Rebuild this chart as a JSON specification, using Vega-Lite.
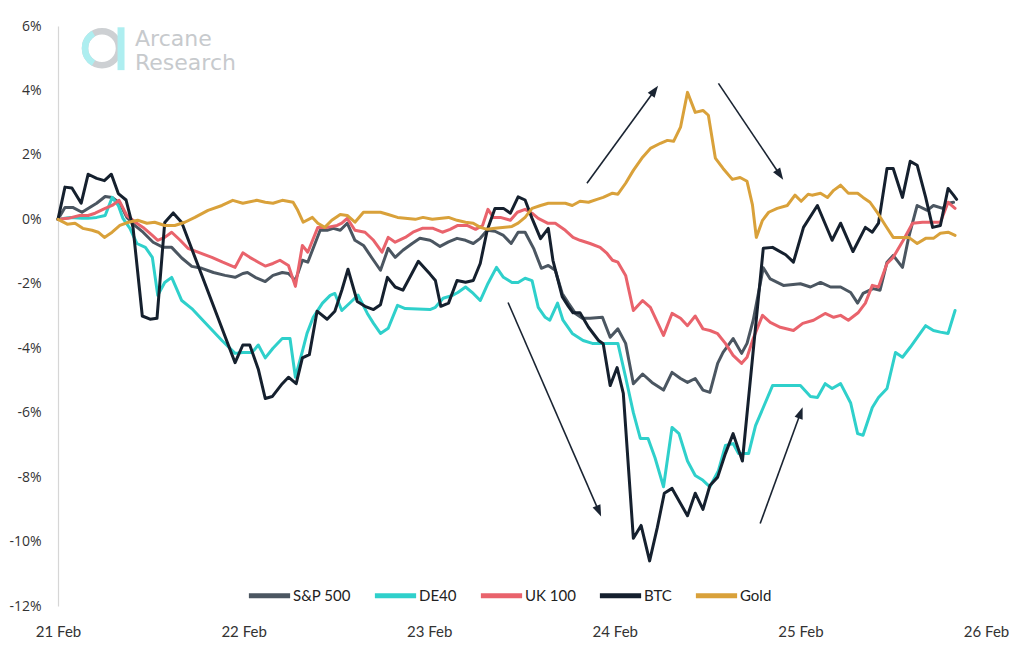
{
  "$schema": "https://vega.github.io/schema/vega-lite/v6.json",
  "width": 928,
  "height": 580,
  "autosize": {"type": "none"},
  "padding": {"left": 58, "top": 26, "right": 38, "bottom": 45},
  "background": "white",
  "config": {"view": {"stroke": null}, "font": "Open Sans"},
  "datasets": {
    "series": [
      {"s":"S&P 500","h":0,"v":0},{"s":"S&P 500","h":0.9,"v":0.37},{"s":"S&P 500","h":1.9,"v":0.37},{"s":"S&P 500","h":3.1,"v":0.22},{"s":"S&P 500","h":4.1,"v":0.37},{"s":"S&P 500","h":5.0,"v":0.5},{"s":"S&P 500","h":6.1,"v":0.71},{"s":"S&P 500","h":7.0,"v":0.68},{"s":"S&P 500","h":8.0,"v":0.5},{"s":"S&P 500","h":8.9,"v":0.06},{"s":"S&P 500","h":10.0,"v":-0.2},{"s":"S&P 500","h":11.0,"v":-0.4},{"s":"S&P 500","h":12.3,"v":-0.71},{"s":"S&P 500","h":13.6,"v":-0.87},{"s":"S&P 500","h":14.7,"v":-0.87},{"s":"S&P 500","h":16.0,"v":-1.2},{"s":"S&P 500","h":17.3,"v":-1.46},{"s":"S&P 500","h":18.6,"v":-1.52},{"s":"S&P 500","h":20.1,"v":-1.65},{"s":"S&P 500","h":21.6,"v":-1.74},{"s":"S&P 500","h":22.9,"v":-1.8},{"s":"S&P 500","h":23.9,"v":-1.68},{"s":"S&P 500","h":24.5,"v":-1.65},{"s":"S&P 500","h":25.5,"v":-1.8},{"s":"S&P 500","h":26.8,"v":-1.93},{"s":"S&P 500","h":27.8,"v":-1.74},{"s":"S&P 500","h":29.0,"v":-1.65},{"s":"S&P 500","h":29.8,"v":-1.68},{"s":"S&P 500","h":30.7,"v":-1.9},{"s":"S&P 500","h":31.6,"v":-1.27},{"s":"S&P 500","h":32.3,"v":-1.33},{"s":"S&P 500","h":33.9,"v":-0.34},{"s":"S&P 500","h":34.8,"v":-0.34},{"s":"S&P 500","h":35.6,"v":-0.28},{"s":"S&P 500","h":36.5,"v":-0.34},{"s":"S&P 500","h":37.4,"v":-0.12},{"s":"S&P 500","h":38.4,"v":-0.65},{"s":"S&P 500","h":39.5,"v":-0.81},{"s":"S&P 500","h":40.6,"v":-1.2},{"s":"S&P 500","h":41.7,"v":-1.58},{"s":"S&P 500","h":42.7,"v":-0.9},{"s":"S&P 500","h":43.6,"v":-1.18},{"s":"S&P 500","h":44.6,"v":-0.96},{"s":"S&P 500","h":45.8,"v":-0.75},{"s":"S&P 500","h":46.8,"v":-0.59},{"s":"S&P 500","h":48.1,"v":-0.65},{"s":"S&P 500","h":48.5,"v":-0.7},{"s":"S&P 500","h":49.4,"v":-0.84},{"s":"S&P 500","h":50.5,"v":-0.7},{"s":"S&P 500","h":51.6,"v":-0.59},{"s":"S&P 500","h":52.7,"v":-0.65},{"s":"S&P 500","h":53.7,"v":-0.75},{"s":"S&P 500","h":54.6,"v":-0.59},{"s":"S&P 500","h":55.5,"v":-0.34},{"s":"S&P 500","h":56.5,"v":-0.37},{"s":"S&P 500","h":57.6,"v":-0.5},{"s":"S&P 500","h":58.6,"v":-0.75},{"s":"S&P 500","h":59.5,"v":-0.4},{"s":"S&P 500","h":60.4,"v":-0.4},{"s":"S&P 500","h":61.5,"v":-0.9},{"s":"S&P 500","h":62.5,"v":-1.52},{"s":"S&P 500","h":63.4,"v":-1.43},{"s":"S&P 500","h":64.3,"v":-1.58},{"s":"S&P 500","h":65.2,"v":-2.3},{"s":"S&P 500","h":66.0,"v":-2.6},{"s":"S&P 500","h":66.9,"v":-2.92},{"s":"S&P 500","h":67.8,"v":-3.07},{"s":"S&P 500","h":68.8,"v":-3.07},{"s":"S&P 500","h":70.4,"v":-3.04},{"s":"S&P 500","h":71.4,"v":-3.66},{"s":"S&P 500","h":72.4,"v":-3.4},{"s":"S&P 500","h":73.4,"v":-3.85},{"s":"S&P 500","h":74.4,"v":-5.1},{"s":"S&P 500","h":75.6,"v":-4.8},{"s":"S&P 500","h":76.8,"v":-5.06},{"s":"S&P 500","h":78.3,"v":-5.3},{"s":"S&P 500","h":79.4,"v":-4.75},{"s":"S&P 500","h":80.5,"v":-4.94},{"s":"S&P 500","h":81.4,"v":-5.06},{"s":"S&P 500","h":82.4,"v":-4.94},{"s":"S&P 500","h":83.4,"v":-5.3},{"s":"S&P 500","h":84.3,"v":-5.37},{"s":"S&P 500","h":85.3,"v":-4.47},{"s":"S&P 500","h":86.0,"v":-4.13},{"s":"S&P 500","h":87.3,"v":-3.7},{"s":"S&P 500","h":88.4,"v":-4.16},{"s":"S&P 500","h":89.1,"v":-3.85},{"s":"S&P 500","h":89.9,"v":-3.13},{"s":"S&P 500","h":91.2,"v":-1.5},{"s":"S&P 500","h":92.1,"v":-1.85},{"s":"S&P 500","h":93.8,"v":-2.05},{"s":"S&P 500","h":96.0,"v":-2.0},{"s":"S&P 500","h":97.3,"v":-2.1},{"s":"S&P 500","h":98.6,"v":-1.96},{"s":"S&P 500","h":99.9,"v":-2.1},{"s":"S&P 500","h":101.2,"v":-2.1},{"s":"S&P 500","h":102.5,"v":-2.27},{"s":"S&P 500","h":103.4,"v":-2.6},{"s":"S&P 500","h":104.1,"v":-2.3},{"s":"S&P 500","h":105.4,"v":-2.15},{"s":"S&P 500","h":106.3,"v":-2.2},{"s":"S&P 500","h":107.2,"v":-1.33},{"s":"S&P 500","h":108.0,"v":-1.12},{"s":"S&P 500","h":109.2,"v":-1.49},{"s":"S&P 500","h":110.0,"v":-0.56},{"s":"S&P 500","h":111.1,"v":0.43},{"s":"S&P 500","h":112.4,"v":0.28},{"s":"S&P 500","h":113.2,"v":0.43},{"s":"S&P 500","h":114.4,"v":0.34},{"s":"S&P 500","h":115.1,"v":0.5},{"s":"S&P 500","h":115.8,"v":0.53},

      {"s":"DE40","h":0,"v":0},{"s":"DE40","h":1.6,"v":0.06},{"s":"DE40","h":3.1,"v":0.03},{"s":"DE40","h":3.9,"v":0.03},{"s":"DE40","h":5.0,"v":0.06},{"s":"DE40","h":6.1,"v":0.12},{"s":"DE40","h":7.0,"v":0.68},{"s":"DE40","h":7.8,"v":0.43},{"s":"DE40","h":8.4,"v":0.03},{"s":"DE40","h":9.3,"v":-0.28},{"s":"DE40","h":10.2,"v":-0.75},{"s":"DE40","h":11.3,"v":-0.87},{"s":"DE40","h":12.2,"v":-1.18},{"s":"DE40","h":12.9,"v":-2.36},{"s":"DE40","h":13.8,"v":-1.96},{"s":"DE40","h":14.7,"v":-1.8},{"s":"DE40","h":16.0,"v":-2.52},{"s":"DE40","h":17.3,"v":-2.77},{"s":"DE40","h":19.0,"v":-3.2},{"s":"DE40","h":21.2,"v":-3.76},{"s":"DE40","h":22.9,"v":-4.16},{"s":"DE40","h":23.9,"v":-4.13},{"s":"DE40","h":25.1,"v":-4.13},{"s":"DE40","h":25.9,"v":-3.9},{"s":"DE40","h":26.8,"v":-4.3},{"s":"DE40","h":27.8,"v":-4.0},{"s":"DE40","h":29.0,"v":-3.7},{"s":"DE40","h":30.0,"v":-3.7},{"s":"DE40","h":30.7,"v":-4.9},{"s":"DE40","h":31.6,"v":-4.1},{"s":"DE40","h":32.2,"v":-3.54},{"s":"DE40","h":33.0,"v":-3.04},{"s":"DE40","h":34.2,"v":-2.6},{"s":"DE40","h":35.2,"v":-2.36},{"s":"DE40","h":35.8,"v":-2.3},{"s":"DE40","h":36.7,"v":-2.83},{"s":"DE40","h":37.8,"v":-2.58},{"s":"DE40","h":38.8,"v":-2.35},{"s":"DE40","h":40.0,"v":-2.92},{"s":"DE40","h":40.8,"v":-3.23},{"s":"DE40","h":41.7,"v":-3.54},{"s":"DE40","h":42.7,"v":-3.38},{"s":"DE40","h":43.9,"v":-2.67},{"s":"DE40","h":44.9,"v":-2.77},{"s":"DE40","h":48.1,"v":-2.8},{"s":"DE40","h":48.8,"v":-2.73},{"s":"DE40","h":49.8,"v":-2.45},{"s":"DE40","h":51.0,"v":-2.36},{"s":"DE40","h":51.7,"v":-2.27},{"s":"DE40","h":52.7,"v":-2.1},{"s":"DE40","h":53.7,"v":-2.3},{"s":"DE40","h":54.6,"v":-2.52},{"s":"DE40","h":55.6,"v":-1.99},{"s":"DE40","h":56.7,"v":-1.49},{"s":"DE40","h":57.6,"v":-1.8},{"s":"DE40","h":58.7,"v":-1.96},{"s":"DE40","h":59.5,"v":-1.96},{"s":"DE40","h":60.4,"v":-1.83},{"s":"DE40","h":61.3,"v":-1.9},{"s":"DE40","h":62.1,"v":-2.73},{"s":"DE40","h":63.0,"v":-3.04},{"s":"DE40","h":63.6,"v":-3.13},{"s":"DE40","h":64.6,"v":-2.6},{"s":"DE40","h":65.3,"v":-3.13},{"s":"DE40","h":66.5,"v":-3.54},{"s":"DE40","h":67.9,"v":-3.76},{"s":"DE40","h":69.1,"v":-3.85},{"s":"DE40","h":72.4,"v":-3.85},{"s":"DE40","h":73.4,"v":-4.9},{"s":"DE40","h":74.4,"v":-6.0},{"s":"DE40","h":75.3,"v":-6.8},{"s":"DE40","h":76.3,"v":-6.8},{"s":"DE40","h":77.2,"v":-7.4},{"s":"DE40","h":78.3,"v":-8.3},{"s":"DE40","h":79.4,"v":-6.46},{"s":"DE40","h":80.3,"v":-6.65},{"s":"DE40","h":81.4,"v":-7.5},{"s":"DE40","h":82.4,"v":-7.95},{"s":"DE40","h":83.4,"v":-8.1},{"s":"DE40","h":84.3,"v":-8.3},{"s":"DE40","h":85.4,"v":-7.8},{"s":"DE40","h":86.3,"v":-7.02},{"s":"DE40","h":87.3,"v":-6.96},{"s":"DE40","h":88.0,"v":-7.27},{"s":"DE40","h":89.3,"v":-7.27},{"s":"DE40","h":90.2,"v":-6.4},{"s":"DE40","h":91.2,"v":-5.84},{"s":"DE40","h":92.4,"v":-5.16},{"s":"DE40","h":96.0,"v":-5.16},{"s":"DE40","h":97.3,"v":-5.5},{"s":"DE40","h":98.2,"v":-5.53},{"s":"DE40","h":99.2,"v":-5.1},{"s":"DE40","h":100.1,"v":-5.25},{"s":"DE40","h":101.2,"v":-5.1},{"s":"DE40","h":102.5,"v":-5.7},{"s":"DE40","h":103.4,"v":-6.65},{"s":"DE40","h":104.1,"v":-6.7},{"s":"DE40","h":105.3,"v":-5.84},{"s":"DE40","h":106.1,"v":-5.53},{"s":"DE40","h":107.2,"v":-5.25},{"s":"DE40","h":108.3,"v":-4.13},{"s":"DE40","h":109.2,"v":-4.28},{"s":"DE40","h":110.2,"v":-3.97},{"s":"DE40","h":111.3,"v":-3.6},{"s":"DE40","h":112.2,"v":-3.3},{"s":"DE40","h":113.2,"v":-3.45},{"s":"DE40","h":114.1,"v":-3.5},{"s":"DE40","h":115.1,"v":-3.54},{"s":"DE40","h":116.0,"v":-2.83},

      {"s":"UK 100","h":0,"v":0},{"s":"UK 100","h":1.3,"v":0.03},{"s":"UK 100","h":2.8,"v":0.12},{"s":"UK 100","h":3.9,"v":0.12},{"s":"UK 100","h":4.8,"v":0.19},{"s":"UK 100","h":6.1,"v":0.34},{"s":"UK 100","h":7.0,"v":0.43},{"s":"UK 100","h":7.9,"v":0.59},{"s":"UK 100","h":8.9,"v":0.12},{"s":"UK 100","h":10.0,"v":-0.09},{"s":"UK 100","h":11.0,"v":-0.25},{"s":"UK 100","h":12.2,"v":-0.5},{"s":"UK 100","h":12.9,"v":-0.65},{"s":"UK 100","h":13.8,"v":-0.56},{"s":"UK 100","h":14.7,"v":-0.4},{"s":"UK 100","h":15.8,"v":-0.65},{"s":"UK 100","h":16.8,"v":-0.9},{"s":"UK 100","h":18.1,"v":-1.02},{"s":"UK 100","h":19.9,"v":-1.18},{"s":"UK 100","h":21.3,"v":-1.33},{"s":"UK 100","h":22.9,"v":-1.49},{"s":"UK 100","h":23.9,"v":-1.04},{"s":"UK 100","h":24.8,"v":-1.18},{"s":"UK 100","h":25.9,"v":-1.33},{"s":"UK 100","h":26.8,"v":-1.45},{"s":"UK 100","h":27.8,"v":-1.37},{"s":"UK 100","h":28.7,"v":-1.27},{"s":"UK 100","h":29.8,"v":-1.43},{"s":"UK 100","h":30.7,"v":-2.08},{"s":"UK 100","h":31.6,"v":-0.81},{"s":"UK 100","h":32.3,"v":-1.02},{"s":"UK 100","h":33.6,"v":-0.25},{"s":"UK 100","h":34.8,"v":-0.25},{"s":"UK 100","h":36.1,"v":-0.19},{"s":"UK 100","h":36.7,"v":-0.12},{"s":"UK 100","h":37.4,"v":0.03},{"s":"UK 100","h":38.4,"v":-0.34},{"s":"UK 100","h":39.7,"v":-0.4},{"s":"UK 100","h":40.8,"v":-0.65},{"s":"UK 100","h":41.9,"v":-1.02},{"s":"UK 100","h":42.7,"v":-0.56},{"s":"UK 100","h":43.6,"v":-0.71},{"s":"UK 100","h":44.9,"v":-0.56},{"s":"UK 100","h":45.9,"v":-0.4},{"s":"UK 100","h":47.1,"v":-0.28},{"s":"UK 100","h":48.5,"v":-0.28},{"s":"UK 100","h":49.7,"v":-0.4},{"s":"UK 100","h":50.7,"v":-0.31},{"s":"UK 100","h":51.7,"v":-0.19},{"s":"UK 100","h":52.9,"v":-0.19},{"s":"UK 100","h":54.0,"v":-0.31},{"s":"UK 100","h":54.9,"v":-0.19},{"s":"UK 100","h":55.6,"v":0.31},{"s":"UK 100","h":56.3,"v":0.06},{"s":"UK 100","h":57.2,"v":0.06},{"s":"UK 100","h":58.5,"v":-0.03},{"s":"UK 100","h":59.4,"v":0.22},{"s":"UK 100","h":60.4,"v":0.31},{"s":"UK 100","h":61.3,"v":0.19},{"s":"UK 100","h":62.1,"v":0.03},{"s":"UK 100","h":63.3,"v":-0.12},{"s":"UK 100","h":64.3,"v":-0.12},{"s":"UK 100","h":65.6,"v":-0.34},{"s":"UK 100","h":66.6,"v":-0.56},{"s":"UK 100","h":67.5,"v":-0.65},{"s":"UK 100","h":68.8,"v":-0.75},{"s":"UK 100","h":70.1,"v":-0.87},{"s":"UK 100","h":71.0,"v":-1.06},{"s":"UK 100","h":71.7,"v":-1.27},{"s":"UK 100","h":72.4,"v":-1.33},{"s":"UK 100","h":73.4,"v":-1.74},{"s":"UK 100","h":74.4,"v":-2.83},{"s":"UK 100","h":75.6,"v":-2.52},{"s":"UK 100","h":76.6,"v":-2.73},{"s":"UK 100","h":78.3,"v":-3.6},{"s":"UK 100","h":79.4,"v":-2.92},{"s":"UK 100","h":80.5,"v":-3.07},{"s":"UK 100","h":81.4,"v":-3.3},{"s":"UK 100","h":82.4,"v":-3.0},{"s":"UK 100","h":83.4,"v":-3.4},{"s":"UK 100","h":84.3,"v":-3.45},{"s":"UK 100","h":85.3,"v":-3.55},{"s":"UK 100","h":86.3,"v":-3.85},{"s":"UK 100","h":87.3,"v":-4.22},{"s":"UK 100","h":88.4,"v":-4.47},{"s":"UK 100","h":89.1,"v":-4.28},{"s":"UK 100","h":89.9,"v":-3.7},{"s":"UK 100","h":91.1,"v":-2.98},{"s":"UK 100","h":92.1,"v":-3.2},{"s":"UK 100","h":93.4,"v":-3.35},{"s":"UK 100","h":95.1,"v":-3.45},{"s":"UK 100","h":96.3,"v":-3.23},{"s":"UK 100","h":97.7,"v":-3.13},{"s":"UK 100","h":99.2,"v":-2.92},{"s":"UK 100","h":100.3,"v":-3.04},{"s":"UK 100","h":101.2,"v":-2.98},{"s":"UK 100","h":102.2,"v":-3.13},{"s":"UK 100","h":103.5,"v":-2.89},{"s":"UK 100","h":104.4,"v":-2.6},{"s":"UK 100","h":105.3,"v":-2.05},{"s":"UK 100","h":106.1,"v":-2.1},{"s":"UK 100","h":107.2,"v":-1.37},{"s":"UK 100","h":108.0,"v":-1.18},{"s":"UK 100","h":109.3,"v":-0.65},{"s":"UK 100","h":110.5,"v":-0.12},{"s":"UK 100","h":111.8,"v":-0.09},{"s":"UK 100","h":114.1,"v":-0.09},{"s":"UK 100","h":115.1,"v":0.53},{"s":"UK 100","h":116.0,"v":0.34},

      {"s":"BTC","h":0,"v":0},{"s":"BTC","h":0.9,"v":1.0},{"s":"BTC","h":1.8,"v":0.97},{"s":"BTC","h":3.0,"v":0.5},{"s":"BTC","h":3.9,"v":1.4},{"s":"BTC","h":5.0,"v":1.27},{"s":"BTC","h":6.0,"v":1.2},{"s":"BTC","h":6.9,"v":1.4},{"s":"BTC","h":7.8,"v":0.8},{"s":"BTC","h":8.8,"v":0.6},{"s":"BTC","h":9.7,"v":-0.25},{"s":"BTC","h":10.9,"v":-3.0},{"s":"BTC","h":11.9,"v":-3.1},{"s":"BTC","h":12.8,"v":-3.07},{"s":"BTC","h":13.8,"v":-0.1},{"s":"BTC","h":14.9,"v":0.2},{"s":"BTC","h":16.0,"v":-0.1},{"s":"BTC","h":22.9,"v":-4.45},{"s":"BTC","h":23.9,"v":-3.9},{"s":"BTC","h":24.8,"v":-3.9},{"s":"BTC","h":25.9,"v":-4.65},{"s":"BTC","h":26.8,"v":-5.56},{"s":"BTC","h":27.7,"v":-5.5},{"s":"BTC","h":29.0,"v":-5.1},{"s":"BTC","h":29.8,"v":-4.9},{"s":"BTC","h":30.8,"v":-5.1},{"s":"BTC","h":31.6,"v":-4.3},{"s":"BTC","h":32.5,"v":-4.2},{"s":"BTC","h":33.5,"v":-2.85},{"s":"BTC","h":34.8,"v":-3.1},{"s":"BTC","h":35.8,"v":-2.85},{"s":"BTC","h":36.7,"v":-2.2},{"s":"BTC","h":37.5,"v":-1.55},{"s":"BTC","h":38.7,"v":-2.55},{"s":"BTC","h":39.7,"v":-2.7},{"s":"BTC","h":40.8,"v":-2.8},{"s":"BTC","h":41.7,"v":-2.65},{"s":"BTC","h":42.6,"v":-1.8},{"s":"BTC","h":43.6,"v":-2.1},{"s":"BTC","h":44.6,"v":-2.2},{"s":"BTC","h":45.5,"v":-1.8},{"s":"BTC","h":46.6,"v":-1.3},{"s":"BTC","h":48.1,"v":-1.7},{"s":"BTC","h":48.8,"v":-1.9},{"s":"BTC","h":49.5,"v":-2.7},{"s":"BTC","h":50.5,"v":-2.6},{"s":"BTC","h":51.6,"v":-1.9},{"s":"BTC","h":52.7,"v":-1.95},{"s":"BTC","h":53.7,"v":-1.9},{"s":"BTC","h":54.6,"v":-1.37},{"s":"BTC","h":55.5,"v":-0.34},{"s":"BTC","h":56.5,"v":0.34},{"s":"BTC","h":57.6,"v":0.34},{"s":"BTC","h":58.5,"v":0.19},{"s":"BTC","h":59.5,"v":0.7},{"s":"BTC","h":60.4,"v":0.6},{"s":"BTC","h":61.3,"v":0.03},{"s":"BTC","h":62.4,"v":-0.6},{"s":"BTC","h":63.4,"v":-0.28},{"s":"BTC","h":64.0,"v":-1.27},{"s":"BTC","h":65.2,"v":-2.4},{"s":"BTC","h":66.0,"v":-2.7},{"s":"BTC","h":66.6,"v":-2.9},{"s":"BTC","h":67.5,"v":-2.9},{"s":"BTC","h":68.6,"v":-3.35},{"s":"BTC","h":69.9,"v":-3.76},{"s":"BTC","h":70.5,"v":-3.86},{"s":"BTC","h":71.4,"v":-5.16},{"s":"BTC","h":72.3,"v":-4.6},{"s":"BTC","h":73.1,"v":-5.4},{"s":"BTC","h":74.4,"v":-9.9},{"s":"BTC","h":75.4,"v":-9.5},{"s":"BTC","h":76.5,"v":-10.6},{"s":"BTC","h":77.5,"v":-9.56},{"s":"BTC","h":78.4,"v":-8.5},{"s":"BTC","h":79.4,"v":-8.35},{"s":"BTC","h":81.4,"v":-9.2},{"s":"BTC","h":82.4,"v":-8.5},{"s":"BTC","h":83.4,"v":-9.0},{"s":"BTC","h":84.3,"v":-8.26},{"s":"BTC","h":85.3,"v":-8.0},{"s":"BTC","h":86.3,"v":-7.27},{"s":"BTC","h":87.3,"v":-6.65},{"s":"BTC","h":88.5,"v":-7.5},{"s":"BTC","h":91.2,"v":-0.9},{"s":"BTC","h":92.4,"v":-0.87},{"s":"BTC","h":94.1,"v":-1.1},{"s":"BTC","h":95.1,"v":-1.33},{"s":"BTC","h":96.4,"v":-0.25},{"s":"BTC","h":98.2,"v":0.43},{"s":"BTC","h":100.1,"v":-0.65},{"s":"BTC","h":101.2,"v":-0.12},{"s":"BTC","h":102.8,"v":-1.0},{"s":"BTC","h":104.4,"v":-0.25},{"s":"BTC","h":105.3,"v":-0.4},{"s":"BTC","h":106.1,"v":-0.12},{"s":"BTC","h":107.2,"v":1.58},{"s":"BTC","h":108.0,"v":1.58},{"s":"BTC","h":109.2,"v":0.68},{"s":"BTC","h":110.2,"v":1.8},{"s":"BTC","h":111.1,"v":1.68},{"s":"BTC","h":112.2,"v":0.68},{"s":"BTC","h":113.1,"v":-0.25},{"s":"BTC","h":114.1,"v":-0.19},{"s":"BTC","h":115.1,"v":0.96},{"s":"BTC","h":115.8,"v":0.75},{"s":"BTC","h":116.2,"v":0.62},

      {"s":"Gold","h":0,"v":0},{"s":"Gold","h":1.2,"v":-0.15},{"s":"Gold","h":2.2,"v":-0.12},{"s":"Gold","h":3.2,"v":-0.28},{"s":"Gold","h":4.4,"v":-0.34},{"s":"Gold","h":5.2,"v":-0.4},{"s":"Gold","h":6.0,"v":-0.56},{"s":"Gold","h":7.0,"v":-0.4},{"s":"Gold","h":8.0,"v":-0.19},{"s":"Gold","h":9.1,"v":-0.09},{"s":"Gold","h":10.3,"v":-0.03},{"s":"Gold","h":11.5,"v":-0.12},{"s":"Gold","h":12.5,"v":-0.09},{"s":"Gold","h":13.8,"v":-0.19},{"s":"Gold","h":15.1,"v":-0.19},{"s":"Gold","h":16.4,"v":-0.09},{"s":"Gold","h":17.7,"v":0.06},{"s":"Gold","h":19.4,"v":0.28},{"s":"Gold","h":21.2,"v":0.43},{"s":"Gold","h":22.6,"v":0.59},{"s":"Gold","h":23.9,"v":0.5},{"s":"Gold","h":25.7,"v":0.59},{"s":"Gold","h":26.8,"v":0.53},{"s":"Gold","h":27.8,"v":0.5},{"s":"Gold","h":29.0,"v":0.59},{"s":"Gold","h":30.4,"v":0.53},{"s":"Gold","h":31.0,"v":0.28},{"s":"Gold","h":31.7,"v":-0.09},{"s":"Gold","h":32.9,"v":0.06},{"s":"Gold","h":33.6,"v":-0.12},{"s":"Gold","h":34.5,"v":-0.25},{"s":"Gold","h":35.4,"v":-0.03},{"s":"Gold","h":36.5,"v":0.15},{"s":"Gold","h":37.4,"v":0.12},{"s":"Gold","h":38.4,"v":-0.09},{"s":"Gold","h":39.5,"v":0.22},{"s":"Gold","h":41.7,"v":0.22},{"s":"Gold","h":42.7,"v":0.15},{"s":"Gold","h":43.9,"v":0.06},{"s":"Gold","h":46.2,"v":0.0},{"s":"Gold","h":47.2,"v":0.06},{"s":"Gold","h":48.4,"v":0.0},{"s":"Gold","h":50.5,"v":0.06},{"s":"Gold","h":51.6,"v":-0.03},{"s":"Gold","h":52.7,"v":-0.09},{"s":"Gold","h":53.7,"v":-0.12},{"s":"Gold","h":54.6,"v":-0.25},{"s":"Gold","h":55.5,"v":-0.31},{"s":"Gold","h":56.5,"v":-0.28},{"s":"Gold","h":58.7,"v":-0.22},{"s":"Gold","h":59.5,"v":-0.12},{"s":"Gold","h":60.4,"v":0.06},{"s":"Gold","h":61.3,"v":0.34},{"s":"Gold","h":62.4,"v":0.43},{"s":"Gold","h":63.4,"v":0.5},{"s":"Gold","h":65.6,"v":0.5},{"s":"Gold","h":66.5,"v":0.43},{"s":"Gold","h":67.5,"v":0.56},{"s":"Gold","h":68.6,"v":0.53},{"s":"Gold","h":69.7,"v":0.62},{"s":"Gold","h":70.5,"v":0.68},{"s":"Gold","h":71.7,"v":0.81},{"s":"Gold","h":72.4,"v":0.78},{"s":"Gold","h":73.4,"v":1.12},{"s":"Gold","h":74.4,"v":1.52},{"s":"Gold","h":75.6,"v":1.93},{"s":"Gold","h":76.6,"v":2.2},{"s":"Gold","h":77.9,"v":2.36},{"s":"Gold","h":78.8,"v":2.45},{"s":"Gold","h":79.6,"v":2.42},{"s":"Gold","h":80.5,"v":2.86},{"s":"Gold","h":81.4,"v":3.94},{"s":"Gold","h":82.4,"v":3.32},{"s":"Gold","h":83.4,"v":3.38},{"s":"Gold","h":84.1,"v":3.23},{"s":"Gold","h":85.0,"v":1.9},{"s":"Gold","h":86.0,"v":1.58},{"s":"Gold","h":87.2,"v":1.24},{"s":"Gold","h":88.2,"v":1.3},{"s":"Gold","h":89.1,"v":1.18},{"s":"Gold","h":89.8,"v":0.45},{"s":"Gold","h":90.3,"v":-0.56},{"s":"Gold","h":91.1,"v":-0.03},{"s":"Gold","h":91.9,"v":0.22},{"s":"Gold","h":93.0,"v":0.34},{"s":"Gold","h":94.3,"v":0.43},{"s":"Gold","h":95.3,"v":0.75},{"s":"Gold","h":96.1,"v":0.56},{"s":"Gold","h":97.0,"v":0.78},{"s":"Gold","h":97.5,"v":0.75},{"s":"Gold","h":98.6,"v":0.81},{"s":"Gold","h":99.5,"v":0.68},{"s":"Gold","h":100.3,"v":0.9},{"s":"Gold","h":101.2,"v":1.06},{"s":"Gold","h":102.2,"v":0.81},{"s":"Gold","h":103.4,"v":0.81},{"s":"Gold","h":104.1,"v":0.68},{"s":"Gold","h":105.0,"v":0.53},{"s":"Gold","h":106.0,"v":0.19},{"s":"Gold","h":107.0,"v":-0.19},{"s":"Gold","h":108.0,"v":-0.56},{"s":"Gold","h":110.0,"v":-0.56},{"s":"Gold","h":111.1,"v":-0.75},{"s":"Gold","h":112.2,"v":-0.59},{"s":"Gold","h":113.2,"v":-0.59},{"s":"Gold","h":114.1,"v":-0.43},{"s":"Gold","h":115.1,"v":-0.4},{"s":"Gold","h":116.0,"v":-0.5}
    ],
    "arrows": [
      {"h":68.4,"v":1.12,"h2":77.1,"v2":3.98,"a":36},
      {"h":85.4,"v":4.22,"h2":93.3,"v2":1.40,"a":146},
      {"h":58.2,"v":-2.58,"h2":69.9,"v2":-9.04,"a":157},
      {"h":90.8,"v":-9.44,"h2":96.0,"v2":-6.02,"a":20}
    ],
    "logo": [
      {"t":"Arcane","h":9.96,"v":5.37},
      {"t":"Research","h":9.96,"v":4.62}
    ],
    "mark": [
      {"h":5.69,"v":5.31,"h2":8.15,"v1":5.96,"v2":4.63}
    ]
  },
  "layer": [
    {
      "mark": {"type": "rule", "color": "#cccccc", "strokeWidth": 1},
      "encoding": {"y": {"datum": 0, "type": "quantitative"}}
    },
    {
      "data": {"name": "logo"},
      "mark": {"type": "text", "align": "left", "baseline": "alphabetic", "font": "DejaVu Sans", "fontSize": 22, "color": "#c7cacd"},
      "encoding": {
        "x": {"field": "h", "type": "quantitative"},
        "y": {"field": "v", "type": "quantitative"},
        "text": {"field": "t"}
      }
    },
    {
      "data": {"name": "mark"},
      "mark": {"type": "point", "shape": "M-1,0A1,1 0 1,1 1,0A1,1 0 1,1 -1,0Z", "filled": false, "size": 1156, "strokeWidth": 6.5, "stroke": "#cdd0d3", "opacity": 1},
      "encoding": {
        "x": {"field": "h", "type": "quantitative"},
        "y": {"field": "v", "type": "quantitative"}
      }
    },
    {
      "data": {"name": "mark"},
      "mark": {"type": "point", "shape": "M-0.5,-0.866A1,1 0 0,0 -0.5,0.866", "filled": false, "size": 1156, "strokeWidth": 6.5, "stroke": "#aeeef0", "opacity": 1},
      "encoding": {
        "x": {"field": "h", "type": "quantitative"},
        "y": {"field": "v", "type": "quantitative"}
      }
    },
    {
      "data": {"name": "mark"},
      "mark": {"type": "rule", "strokeWidth": 7, "color": "#aeeef0"},
      "encoding": {
        "x": {"field": "h2", "type": "quantitative"},
        "y": {"field": "v1", "type": "quantitative"},
        "y2": {"field": "v2"}
      }
    },
    {
      "data": {"name": "series"},
      "mark": {"type": "line", "strokeWidth": 3, "strokeJoin": "round", "strokeCap": "round"},
      "encoding": {
        "x": {
          "field": "h", "type": "quantitative",
          "scale": {"domain": [0, 120], "nice": false, "zero": false},
          "axis": {"values": [0, 24, 48, 72, 96, 120], "labelExpr": "(21 + datum.value/24) + ' Feb'", "title": null, "grid": false, "ticks": false, "tickSize": 0, "domain": false, "labelFontSize": 15, "labelFont": "Lato", "labelColor": "#333333", "labelPadding": 18, "labelFlush": false}
        },
        "y": {
          "field": "v", "type": "quantitative",
          "scale": {"domain": [-12, 6], "nice": false},
          "axis": {"values": [-12, -10, -8, -6, -4, -2, 0, 2, 4, 6], "labelExpr": "datum.value + '%'", "title": null, "grid": false, "ticks": false, "tickSize": 0, "domain": true, "domainColor": "#d6d6d6", "domainWidth": 1.2, "labelFontSize": 14, "labelFont": "Open Sans", "labelColor": "#333333", "labelPadding": 17}
        },
        "color": {
          "field": "s", "type": "nominal",
          "scale": {"domain": ["S&P 500", "DE40", "UK 100", "BTC", "Gold"], "range": ["#4b5661", "#2fd0cb", "#e9636c", "#15202e", "#d9a13a"]},
          "legend": {"orient": "none", "legendX": 188, "legendY": 546, "direction": "horizontal", "title": null, "symbolType": "stroke", "symbolStrokeWidth": 5, "symbolSize": 1700, "labelFontSize": 15, "labelFont": "Lato", "labelColor": "#222222", "columnPadding": 13, "labelOffset": 0}
        }
      }
    },
    {
      "data": {"name": "arrows"},
      "mark": {"type": "rule", "strokeWidth": 1.6, "color": "#1a2432"},
      "encoding": {
        "x": {"field": "h", "type": "quantitative"},
        "y": {"field": "v", "type": "quantitative"},
        "x2": {"field": "h2"},
        "y2": {"field": "v2"}
      }
    },
    {
      "data": {"name": "arrows"},
      "mark": {"type": "point", "shape": "M0,-1L-0.65,0.8L0.65,0.8Z", "filled": true, "size": 170, "color": "#1a2432", "opacity": 1},
      "encoding": {
        "x": {"field": "h2", "type": "quantitative"},
        "y": {"field": "v2", "type": "quantitative"},
        "angle": {"field": "a", "type": "quantitative", "scale": null}
      }
    }
  ]
}
